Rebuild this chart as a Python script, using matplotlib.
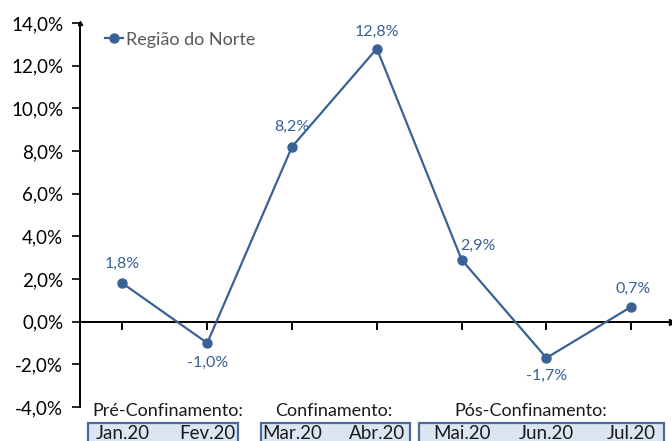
import matplotlib
matplotlib.use("Agg")
import matplotlib.pyplot as plt
from matplotlib.patches import Rectangle

# ── Data ──────────────────────────────────────────────────────────────────────
months = ["Jan.20", "Fev.20", "Mar.20", "Abr.20", "Mai.20", "Jun.20", "Jul.20"]
values = [1.8, -1.0, 8.2, 12.8, 2.9, -1.7, 0.7]
series_name = "Região do Norte"

groups = ["Pré-Confinamento:", "Confinamento:", "Pós-Confinamento:"]
group_members = [[0, 1], [2, 3], [4, 5, 6]]

y_ticks = [-4, -2, 0, 2, 4, 6, 8, 10, 12, 14]

LINE = "#3a6196"
BOX_FILL = "#dce6f2"
BOX_EDGE = "#4a6a9a"

plt.rcParams["font.family"] = ["Lato", "DejaVu Sans"]


def pct(v):
    return f"{v:.1f}%".replace(".", ",")


fig = plt.figure(figsize=(6.72, 4.41), dpi=100)
ax = fig.add_axes([80 / 672, 1 - 407 / 441, 1 - 80 / 672, 384 / 441])

x = list(range(len(months)))
ax.plot(x, values, color=LINE, lw=1.6, marker="o", ms=6.5, label=series_name,
        clip_on=False, zorder=3)

# ── Axes ──────────────────────────────────────────────────────────────────────
ax.set_xlim(-0.5, 6.48)
ax.set_ylim(-4, 14)
ax.set_yticks(y_ticks)
ax.set_yticklabels([pct(t) for t in y_ticks], fontsize=13.5)
ax.tick_params(axis="y", length=6, width=1.2, pad=6, direction="out")
ax.set_xticks([])
for s in ("top", "right", "bottom"):
    ax.spines[s].set_visible(False)
ax.spines["left"].set_linewidth(1.4)

# zero line with arrow and downward category ticks
ax.axhline(0, color="black", lw=1.4, zorder=2)
ax.plot(1, 0, marker=">", color="black", ms=5, transform=ax.get_yaxis_transform(),
        clip_on=False)
ax.plot(0, 1, marker="^", color="black", ms=3, transform=ax.transAxes, clip_on=False)
ax.plot(x, [0] * len(x), ls="none", marker=3, ms=6, mew=1.4, color="black", zorder=2)

# ── Data labels ───────────────────────────────────────────────────────────────
offsets = [(0, 9), (0, -9), (0, 9), (0, 7), (12, 5), (0, -8), (1, 8)]
for xi, v, off in zip(x, values, offsets):
    va = "bottom" if off[1] > 0 else "top"
    ax.annotate(pct(v), (xi, v), xytext=off, textcoords="offset points",
                ha="center", va=va, color=LINE, fontsize=11.5)

# ── Legend ────────────────────────────────────────────────────────────────────
leg = ax.legend(loc="upper left", bbox_to_anchor=(0.015, 1.02), frameon=False,
                handlelength=1.0, handletextpad=0.15, fontsize=13)
for t in leg.get_texts():
    t.set_color("#595959")

# ── Group boxes under the axis ────────────────────────────────────────────────
tr = ax.get_xaxis_transform()
box_spans = [(-0.41, 1.36), (1.635, 3.39), (3.5, 6.38)]
group_x = [0.54, 2.49, 4.82]
for name, gx, (x0, x1), members in zip(groups, group_x, box_spans, group_members):
    ax.text(gx, -0.01, name, transform=tr, ha="center", va="center",
            fontsize=13, color="#1a1a1a", clip_on=False)
    ax.add_patch(Rectangle((x0, -0.14), x1 - x0, 0.098, transform=tr,
                           facecolor=BOX_FILL, edgecolor=BOX_EDGE, lw=1.6,
                           clip_on=False))
    for m in members:
        ax.text(m, -0.07, months[m], transform=tr, ha="center", va="center",
                fontsize=13.5, color="#1a1a1a", clip_on=False)

fig.savefig("out.png", dpi=100)
